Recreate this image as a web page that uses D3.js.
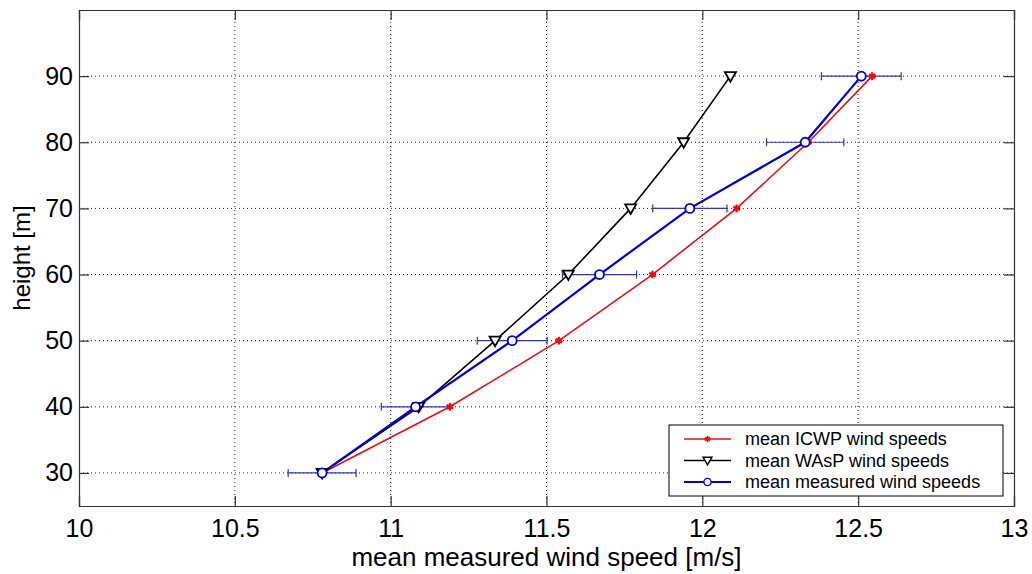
<!DOCTYPE html>
<html>
<head>
<meta charset="utf-8">
<script src="https://cdn.jsdelivr.net/npm/d3@7"></script>
<style>
  body { margin: 0; background: #fff; }
  text { font-family: "Liberation Sans", Arial, Helvetica, sans-serif; }
</style>
</head>
<body>
<div class="chart"></div>
<script>
// heights and wind speeds
const heights = [30, 40, 50, 60, 70, 80, 90];
const icwpSpeeds = [10.78, 11.19, 11.54, 11.84, 12.11, 12.34, 12.545];
const waspSpeeds = [10.78, 11.09, 11.335, 11.57, 11.77, 11.94, 12.09];
const measuredSpeeds = [10.78, 11.08, 11.39, 11.67, 11.96, 12.33, 12.51];
const measuredErr = [0.109, 0.11, 0.112, 0.119, 0.119, 0.124, 0.128];
const xTicks = [10, 10.5, 11, 11.5, 12, 12.5, 13];
const yTicks = [30, 40, 50, 60, 70, 80, 90];
const legendLabels = ["mean ICWP wind speeds", "mean WAsP wind speeds", "mean measured wind speeds"];

const width = 1032, height = 574;
const margin = { top: 10, right: 18, bottom: 68, left: 79 };
const innerW = width - margin.left - margin.right;
const innerH = height - margin.top - margin.bottom;

const svg = d3.select(".chart")
  .append("svg")
  .attr("width", width)
  .attr("height", height);

const g = svg.append("g")
  .attr("transform", `translate(${margin.left},${margin.top})`);

const x = d3.scaleLinear().domain([10, 13]).range([0, innerW]);
const y = d3.scaleLinear().domain([25, 100]).range([innerH, 0]);

// dotted grid
g.append("g")
  .selectAll("line")
  .data(xTicks.slice(1, -1))
  .join("line")
  .attr("x1", d => x(d)).attr("x2", d => x(d))
  .attr("y1", 0).attr("y2", innerH)
  .attr("stroke", "#222")
  .attr("stroke-width", 1)
  .attr("stroke-dasharray", "1,3");

g.append("g")
  .selectAll("line")
  .data(yTicks)
  .join("line")
  .attr("x1", 0).attr("x2", innerW)
  .attr("y1", d => y(d)).attr("y2", d => y(d))
  .attr("stroke", "#222")
  .attr("stroke-width", 1)
  .attr("stroke-dasharray", "1,3");

// axes, matlab style ticks pointing inwards
const axisFont = "25px";
const xAxis = g.append("g")
  .attr("transform", `translate(0,${innerH})`)
  .call(d3.axisBottom(x).tickValues(xTicks).tickSize(-10).tickPadding(13).tickFormat(d3.format("")));
const xTop = g.append("g")
  .call(d3.axisTop(x).tickValues(xTicks).tickSize(-10).tickFormat(""));
const yAxis = g.append("g")
  .call(d3.axisLeft(y).tickValues(yTicks).tickSize(-10).tickPadding(6));
const yRight = g.append("g")
  .attr("transform", `translate(${innerW},0)`)
  .call(d3.axisRight(y).tickValues(yTicks).tickSize(-10).tickFormat(""));

[xAxis, xTop, yAxis, yRight].forEach(a => {
  a.select(".domain").attr("stroke", "#333").attr("stroke-width", 1.2);
  a.selectAll(".tick line").attr("stroke", "#333").attr("stroke-width", 1.2);
  a.selectAll("text")
    .style("font-size", axisFont)
    .style("font-family", "'Liberation Sans', Arial, sans-serif")
    .attr("fill", "#000");
});

// axis labels
svg.append("text")
  .attr("x", margin.left + innerW / 2)
  .attr("y", 566)
  .attr("text-anchor", "middle")
  .style("font-size", "26px")
  .text("mean measured wind speed [m/s]");

svg.append("text")
  .attr("transform", `translate(30,${margin.top + innerH / 2}) rotate(-90)`)
  .attr("text-anchor", "middle")
  .style("font-size", "24px")
  .text("height [m]");

// markers
function star(sel, color) {
  sel.append("path")
    .attr("d", d3.symbol().type(d3.symbolAsterisk).size(40))
    .attr("fill", "none")
    .attr("stroke", color)
    .attr("stroke-width", 2.2);
}
function triangle(sel) {
  sel.append("path")
    .attr("d", "M-5.5,-4L5.5,-4L0,5.5Z")
    .attr("fill", "#fff")
    .attr("stroke", "#000")
    .attr("stroke-width", 1.8);
}
function circle(sel) {
  sel.append("circle")
    .attr("r", 4.5)
    .attr("fill", "#fff")
    .attr("stroke", "#0000cc")
    .attr("stroke-width", 1.8);
}

const line = d3.line().x(d => x(d[0])).y(d => y(d[1]));

const icwp = icwpSpeeds.map((v, i) => [v, heights[i]]);
const wasp = waspSpeeds.map((v, i) => [v, heights[i]]);
const measured = measuredSpeeds.map((v, i) => [v, heights[i]]);

// error bars for measured speeds
const errG = g.append("g");
measured.forEach((d, i) => {
  const x0 = x(d[0] - measuredErr[i]), x1 = x(d[0] + measuredErr[i]), yy = y(d[1]);
  errG.append("line").attr("x1", x0).attr("x2", x1).attr("y1", yy).attr("y2", yy);
  errG.append("line").attr("x1", x0).attr("x2", x0).attr("y1", yy - 4).attr("y2", yy + 4);
  errG.append("line").attr("x1", x1).attr("x2", x1).attr("y1", yy - 4).attr("y2", yy + 4);
});
errG.selectAll("line").attr("stroke", "#3535b5").attr("stroke-width", 1.2);

g.append("path").datum(icwp).attr("d", line)
  .attr("fill", "none").attr("stroke", "#dd1111").attr("stroke-width", 1.6);
g.append("path").datum(wasp).attr("d", line)
  .attr("fill", "none").attr("stroke", "#000").attr("stroke-width", 1.6);
g.append("path").datum(measured).attr("d", line)
  .attr("fill", "none").attr("stroke", "#0000cc").attr("stroke-width", 2.2);

g.selectAll(".icwp").data(icwp).join("g")
  .attr("transform", d => `translate(${x(d[0])},${y(d[1])})`)
  .call(s => star(s, "#ff0000"));
g.selectAll(".wasp").data(wasp).join("g")
  .attr("transform", d => `translate(${x(d[0])},${y(d[1])})`)
  .call(triangle);
g.selectAll(".meas").data(measured).join("g")
  .attr("transform", d => `translate(${x(d[0])},${y(d[1])})`)
  .call(circle);

// legend
const legend = svg.append("g").attr("transform", "translate(669,425)");
legend.append("rect")
  .attr("width", 334).attr("height", 71)
  .attr("fill", "#fff").attr("stroke", "#000").attr("stroke-width", 1);

const legendColors = ["#dd1111", "#000", "#0000cc"];
const markers = [s => star(s, "#ff0000"), triangle, circle];
legendLabels.forEach((label, i) => {
  const row = legend.append("g").attr("transform", `translate(0,${14 + i * 21.5})`);
  row.append("line").attr("x1", 15).attr("x2", 62).attr("y1", 0).attr("y2", 0)
    .attr("stroke", legendColors[i]).attr("stroke-width", i == 2 ? 2 : 1.6);
  const m = row.append("g").attr("transform", "translate(38.5,0) scale(0.8)");
  markers[i](m);
  row.append("text")
    .attr("x", 76).attr("y", 6)
    .style("font-size", "18px")
    .text(label);
});
</script>
</body>
</html>
